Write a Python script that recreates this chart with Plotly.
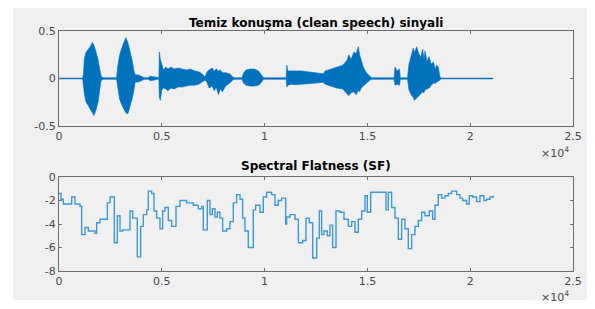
import plotly.graph_objects as go

# ---------------- data ----------------
# Speech waveform envelope: sample index, upper envelope, lower envelope
wave_x = [0, 1150, 1190, 1230, 1300, 1400, 1500, 1620, 1700, 1800, 1900, 1980, 2050, 2150,
          2800, 2850, 2950, 3100, 3250, 3350, 3450, 3550, 3650, 3700, 3900, 4050, 4150,
          4350, 4420, 4550, 4680, 4780, 4860, 4880, 4930, 5000, 5080, 5200, 5300, 5450, 5600,
          5800, 6000, 6200, 6400, 6600, 6800, 6950, 7100, 7200, 7300, 7450, 7550, 7650, 7750,
          7850, 7950, 8100, 8300, 8450, 8550, 8900, 8980, 9100, 9300, 9500, 9700, 9850, 9950,
          11050, 11080, 11130, 11300, 11500, 11800, 12100, 12400, 12700, 12850, 12950, 13200,
          13500, 13800, 14000, 14100, 14200, 14350, 14450, 14560, 14620, 14700, 14800, 14950,
          15100, 15200, 16300, 16340, 16450, 16560, 16600, 16950, 17020, 17150, 17233, 17290,
          17395, 17500, 17600, 17687, 17750, 17800, 17900, 18000, 18100, 18206, 18300, 18368,
          18450, 18520, 18600, 21100]
wave_top = [0.004, 0.004, 0.05, 0.2, 0.27, 0.3, 0.33, 0.38, 0.35, 0.28, 0.2, 0.1, 0.02, 0.008,
            0.008, 0.12, 0.25, 0.35, 0.43, 0.38, 0.3, 0.2, 0.08, 0.04, 0.035, 0.02, 0.008,
            0.008, 0.025, 0.02, 0.015, 0.008, 0.008, 0.28, 0.2, 0.15, 0.09, 0.12, 0.1, 0.12, 0.1,
            0.11, 0.1, 0.09, 0.1, 0.08, 0.07, 0.05, 0.015, 0.07, 0.09, 0.11, 0.08, 0.1, 0.08,
            0.09, 0.06, 0.06, 0.05, 0.015, 0.008, 0.008, 0.06, 0.09, 0.1, 0.1, 0.08, 0.04, 0.008,
            0.008, 0.14, 0.08, 0.08, 0.075, 0.08, 0.07, 0.065, 0.055, 0.05, 0.08, 0.1,
            0.12, 0.14, 0.19, 0.25, 0.2, 0.28, 0.26, 0.335, 0.25, 0.2, 0.12, 0.06,
            0.03, 0.008, 0.008, 0.12, 0.08, 0.1, 0.008, 0.008, 0.15, 0.25, 0.32, 0.27,
            0.335, 0.26, 0.22, 0.31, 0.2, 0.29, 0.18, 0.23, 0.15, 0.175, 0.1, 0.14,
            0.12, 0.02, 0.004, 0.004]
wave_bot = [-0.004, -0.004, -0.04, -0.15, -0.24, -0.28, -0.32, -0.36, -0.39, -0.33, -0.25, -0.12, -0.02, -0.008,
            -0.008, -0.1, -0.22, -0.3, -0.36, -0.37, -0.3, -0.22, -0.12, -0.04, -0.035, -0.02, -0.008,
            -0.008, -0.02, -0.02, -0.015, -0.008, -0.008, -0.2, -0.23, -0.12, -0.1, -0.11, -0.13, -0.1, -0.11,
            -0.09, -0.09, -0.08, -0.07, -0.07, -0.06, -0.04, -0.015, -0.04, -0.1, -0.08, -0.13, -0.09, -0.17,
            -0.11, -0.14, -0.08, -0.05, -0.015, -0.008, -0.008, -0.05, -0.07, -0.08, -0.08, -0.07, -0.04, -0.008,
            -0.008, -0.09, -0.07, -0.06, -0.065, -0.06, -0.055, -0.05, -0.045, -0.04, -0.06, -0.08,
            -0.1, -0.11, -0.16, -0.18, -0.15, -0.14, -0.17, -0.12, -0.14, -0.1, -0.07, -0.05,
            -0.02, -0.008, -0.008, -0.07, -0.06, -0.07, -0.008, -0.008, -0.12, -0.18, -0.2, -0.23,
            -0.2, -0.18, -0.16, -0.14, -0.15, -0.12, -0.11, -0.1, -0.07, -0.05, -0.05, -0.04,
            -0.03, -0.02, -0.004, -0.004]

# Spectral flatness: step edges in samples and the value of each step
sf_x = [0, 97, 211, 616, 778, 1021, 1102, 1264, 1426, 1751, 1832, 1994, 2350, 2480, 2691, 2837, 2966,
        3096, 3453, 3582, 3696, 3809, 3971, 4101, 4263, 4344, 4506, 4620, 4750, 4912, 5041, 5155,
        5317, 5479, 5690, 5884, 6208, 6533, 6776, 6938, 7019, 7213, 7343, 7457, 7586, 7700, 7829,
        7959, 8154, 8316, 8478, 8640, 8802, 8932, 9045, 9207, 9450, 9564, 9775, 9937, 10099, 10342,
        10504, 10666, 10828, 11025, 11073, 11235, 11478, 11641, 11851, 12013, 12175, 12338, 12532,
        12662, 12775, 12889, 13051, 13181, 13310, 13472, 13667, 13861, 14072, 14234, 14396, 14558,
        14720, 14883, 14996, 15158, 15904, 16017, 16179, 16341, 16504, 16666, 16828, 16990, 17152,
        17314, 17476, 17638, 17800, 18011, 18173, 18287, 18449, 18611, 18773, 18935, 19097, 19340,
        19502, 19632, 19826, 19956, 20118, 20313, 20475, 20669, 20799, 20961, 21123]
sf_y = [-1.4, -1.9, -2.3, -1.7, -2.3, -2.5, -4.9, -4.3, -4.6, -4.8, -3.9, -3.6, -2.2, -1.7, -5.6, -3.3, -4.6,
        -4.5, -2.9, -3.5, -3.5, -6.8, -4.2, -3.2, -2.8, -1.2, -1.4, -2.9, -3.5, -4.4, -2.9, -2.6,
        -3.7, -4.2, -2.5, -2.0, -2.2, -2.4, -2.7, -2.5, -4.5, -2.0, -3.2, -2.7, -3.4, -3.0, -3.5,
        -4.6, -4.4, -3.8, -2.2, -1.5, -1.9, -3.5, -4.6, -6.0, -2.8, -2.4, -3.0, -1.7, -1.3, -1.5,
        -2.4, -2.0, -1.8, -4.0, -3.4, -3.2, -3.6, -5.6, -5.4, -3.5, -3.9, -6.9, -5.2,
        -2.9, -4.9, -4.6, -5.0, -4.1, -6.0, -2.9, -3.0, -3.6, -4.2, -3.8, -4.7, -3.6,
        -2.9, -1.6, -3.0, -1.3, -2.8, -1.3, -2.6, -3.5, -5.3, -3.6, -4.4, -6.1, -4.9,
        -4.2, -3.7, -3.0, -3.3, -2.9, -3.6, -2.4, -1.5, -1.8, -1.6, -1.4, -1.2, -1.5,
        -1.8, -2.0, -2.3, -1.6, -1.7, -2.1, -1.6, -2.0, -1.9, -1.7, -1.6]

x_ticks = [0, 5000, 10000, 15000, 20000, 25000]
x_tick_labels = ["0", "0.5", "1", "1.5", "2", "2.5"]
y1_ticks = [-0.5, 0, 0.5]
y1_tick_labels = ["-0.5", "0", "0.5"]
y2_ticks = [-8, -6, -4, -2, 0]
y2_tick_labels = ["-8", "-6", "-4", "-2", "0"]

title_top = "Temiz konuşma (clean speech) sinyali"
title_bottom = "Spectral Flatness (SF)"

# ---------------- figure ----------------
OFF = 8                      # default page margin of the html body
W, H = 595 - OFF, 309 - OFF
BLUE = "#0072BD"
FONT = "DejaVu Sans"


def PX(px):
    return (px - OFF) / W


def PY(py):
    return 1 - (py - OFF) / H


fig = go.Figure()

poly_x = wave_x + wave_x[::-1]
poly_y = wave_top + wave_bot[::-1]
fig.add_trace(go.Scatter(x=poly_x, y=poly_y, fill="toself", fillcolor=BLUE, mode="lines",
                         line=dict(color=BLUE, width=0.6), hoverinfo="skip", showlegend=False,
                         xaxis="x", yaxis="y"))

fig.add_trace(go.Scatter(x=sf_x, y=sf_y, mode="lines", line=dict(color="#3f98d8", width=1.4, shape="hv"),
                         showlegend=False, xaxis="x2", yaxis="y2"))

ax_common = dict(showgrid=False, zeroline=False, showline=True, linecolor="#6e6e6e", linewidth=1,
                 mirror="ticks", ticks="inside", ticklen=3, tickcolor="#6e6e6e", automargin=False,
                 tickfont=dict(family=FONT, size=11, color="#4a4a4a"))

fig.update_layout(
    template="none",
    width=W, height=H,
    margin=dict(l=0, r=0, t=0, b=0, pad=0),
    paper_bgcolor="white", plot_bgcolor="white",
    xaxis=dict(domain=[PX(59), PX(573)], range=[0, 25000], tickvals=x_ticks, ticktext=x_tick_labels,
               anchor="y", **ax_common),
    yaxis=dict(domain=[PY(126), PY(31)], range=[-0.5, 0.5], tickvals=y1_ticks,
               ticktext=y1_tick_labels, anchor="x", **ax_common),
    xaxis2=dict(domain=[PX(59), PX(573)], range=[0, 25000], tickvals=x_ticks, ticktext=x_tick_labels,
                anchor="y2", **ax_common),
    yaxis2=dict(domain=[PY(271), PY(177)], range=[-8, 0], tickvals=y2_ticks,
                ticktext=y2_tick_labels, anchor="x2", **ax_common),
    shapes=[dict(type="rect", xref="paper", yref="paper", x0=PX(13), x1=PX(593), y0=PY(300),
                 y1=1, fillcolor="#f0f0f0", line=dict(width=0), layer="below")],
    annotations=[
        dict(text="<b>" + title_top + "</b>", xref="paper", yref="paper", x=PX(316), y=PY(22.5),
             showarrow=False, xanchor="center", yanchor="middle",
             font=dict(family=FONT, size=12, color="black")),
        dict(text="<b>" + title_bottom + "</b>", xref="paper", yref="paper", x=PX(316), y=PY(166.5),
             showarrow=False, xanchor="center", yanchor="middle",
             font=dict(family=FONT, size=12, color="black")),
        dict(text="×10<sup>4</sup>", xref="paper", yref="paper", x=PX(571), y=PY(152),
             showarrow=False, xanchor="right", yanchor="middle",
             font=dict(family=FONT, size=11, color="#4a4a4a")),
        dict(text="×10<sup>4</sup>", xref="paper", yref="paper", x=PX(571), y=PY(296),
             showarrow=False, xanchor="right", yanchor="middle",
             font=dict(family=FONT, size=11, color="#4a4a4a")),
    ],
)

fig.write_html("out.html")
